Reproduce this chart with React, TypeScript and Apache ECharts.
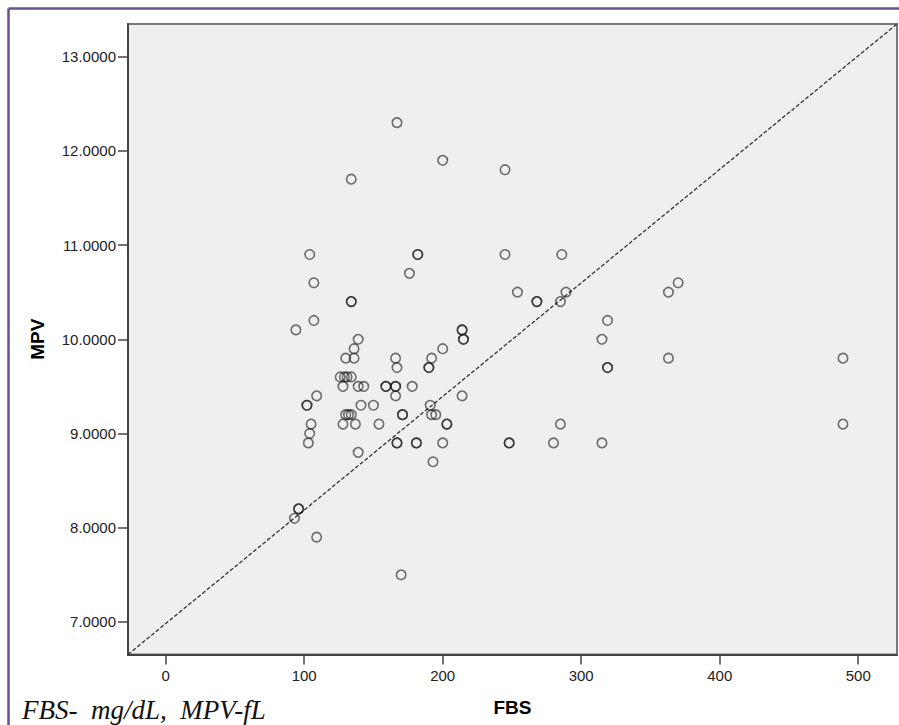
import React, { useEffect, useRef } from "react";
import * as echarts from "echarts";

// FBS (mg/dL) values of each subject
const fbs: number[] = [
  167, 200, 134, 245,
  104, 182, 182, 245, 286, 176, 107, 370,
  254, 289, 363, 134, 134, 268, 268, 285,
  107, 319, 94, 214, 214, 139, 215, 215, 315,
  136, 200, 130, 136, 166, 192, 363, 489,
  167, 190, 190, 319, 319,
  126, 129, 131, 134,
  128, 139, 143, 159, 159, 166, 166, 178,
  109, 166, 214, 102, 102, 141, 150, 191,
  130, 132, 134, 171, 171, 192, 195,
  105, 128, 137, 154, 203, 203, 285, 489,
  104, 103, 167, 167, 181, 181, 200, 248, 248, 280, 315,
  139, 193, 96, 96, 93, 109, 170,
];

// MPV (fL) values, same order as fbs
const mpv: number[] = [
  12.3, 11.9, 11.7, 11.8,
  10.9, 10.9, 10.9, 10.9, 10.9, 10.7, 10.6, 10.6,
  10.5, 10.5, 10.5, 10.4, 10.4, 10.4, 10.4, 10.4,
  10.2, 10.2, 10.1, 10.1, 10.1, 10.0, 10.0, 10.0, 10.0,
  9.9, 9.9, 9.8, 9.8, 9.8, 9.8, 9.8, 9.8,
  9.7, 9.7, 9.7, 9.7, 9.7,
  9.6, 9.6, 9.6, 9.6,
  9.5, 9.5, 9.5, 9.5, 9.5, 9.5, 9.5, 9.5,
  9.4, 9.4, 9.4, 9.3, 9.3, 9.3, 9.3, 9.3,
  9.2, 9.2, 9.2, 9.2, 9.2, 9.2, 9.2,
  9.1, 9.1, 9.1, 9.1, 9.1, 9.1, 9.1, 9.1,
  9.0, 8.9, 8.9, 8.9, 8.9, 8.9, 8.9, 8.9, 8.9, 8.9, 8.9,
  8.8, 8.7, 8.2, 8.2, 8.1, 7.9, 7.5,
];

const xTicks: number[] = [0, 100, 200, 300, 400, 500];
const yTicks: number[] = [7, 8, 9, 10, 11, 12, 13];
const xRange: number[] = [-27.2, 528];
const yRange: number[] = [6.654, 13.347];
const xTitle = "FBS";
const yTitle = "MPV";
const footnote = "FBS-  mg/dL,  MPV-fL";

export default function App() {
  const ref = useRef<HTMLDivElement>(null);

  useEffect(() => {
    document.body.style.margin = "0";
    if (!ref.current) return;
    const chart = echarts.init(ref.current, null, { renderer: "svg" });
    const points = fbs.map((x, i) => [x, mpv[i]]);
    const axisFont = "Arial, 'Liberation Sans', sans-serif";
    chart.setOption({
      animation: false,
      backgroundColor: "#ffffff",
      grid: {
        left: 128,
        top: 24,
        right: 2,
        bottom: 70.5,
        show: true,
        backgroundColor: "#efefef",
        borderColor: "#777777",
        borderWidth: 2,
      },
      xAxis: {
        type: "value",
        min: xRange[0],
        max: xRange[1],
        name: xTitle,
        nameLocation: "middle",
        nameGap: 53,
        nameTextStyle: {
          fontFamily: axisFont,
          fontWeight: "bold",
          fontSize: 19,
          color: "#000",
          verticalAlign: "middle",
        },
        axisLine: { show: true, onZero: false, lineStyle: { color: "#444", width: 2 } },
        axisTick: {
          show: true,
          length: 10,
          customValues: xTicks,
          lineStyle: { color: "#444", width: 1.5 },
        },
        axisLabel: {
          customValues: xTicks,
          margin: 13,
          fontFamily: axisFont,
          fontSize: 15,
          color: "#222",
          formatter: (v: number) => String(v),
        },
        splitLine: { show: false },
      },
      yAxis: {
        type: "value",
        min: yRange[0],
        max: yRange[1],
        name: yTitle,
        nameLocation: "middle",
        nameGap: 91,
        nameRotate: 90,
        nameTextStyle: {
          fontFamily: axisFont,
          fontWeight: "bold",
          fontSize: 19,
          color: "#000",
          verticalAlign: "middle",
        },
        axisLine: { show: true, onZero: false, lineStyle: { color: "#444", width: 2 } },
        axisTick: {
          show: true,
          length: 10,
          customValues: yTicks,
          lineStyle: { color: "#444", width: 1.5 },
        },
        axisLabel: {
          customValues: yTicks,
          margin: 12,
          fontFamily: axisFont,
          fontSize: 15,
          color: "#222",
          formatter: (v: number) => v.toFixed(4),
        },
        splitLine: { show: false },
      },
      graphic: [
        {
          type: "line",
          shape: { x1: 8.5, y1: 8.5, x2: 899, y2: 8.5 },
          style: { stroke: "#6a5095", lineWidth: 2.5 },
          z: 100,
        },
        {
          type: "line",
          shape: { x1: 8.5, y1: 8.5, x2: 8.5, y2: 725 },
          style: { stroke: "#6a5095", lineWidth: 2.5 },
          z: 100,
        },
        {
          type: "text",
          left: 22,
          top: 696,
          style: {
            text: footnote,
            font: "italic 27px 'Liberation Serif', 'Times New Roman', serif",
            fill: "#111",
          },
        },
      ],
      series: [
        {
          type: "line",
          data: [
            [xRange[0], yRange[0]],
            [xRange[1], yRange[1]],
          ],
          symbol: "none",
          silent: true,
          lineStyle: { color: "#333", width: 1.3, type: [4, 2] },
          z: 1,
        },
        {
          type: "scatter",
          data: points,
          symbol: "circle",
          symbolSize: 9.5,
          itemStyle: {
            color: "rgba(0,0,0,0)",
            borderColor: "rgba(20,20,20,0.75)",
            borderWidth: 1.6,
          },
          z: 2,
        },
      ],
    });
    return () => chart.dispose();
  }, []);

  return <div ref={ref} style={{ width: 899, height: 725 }} />;
}
